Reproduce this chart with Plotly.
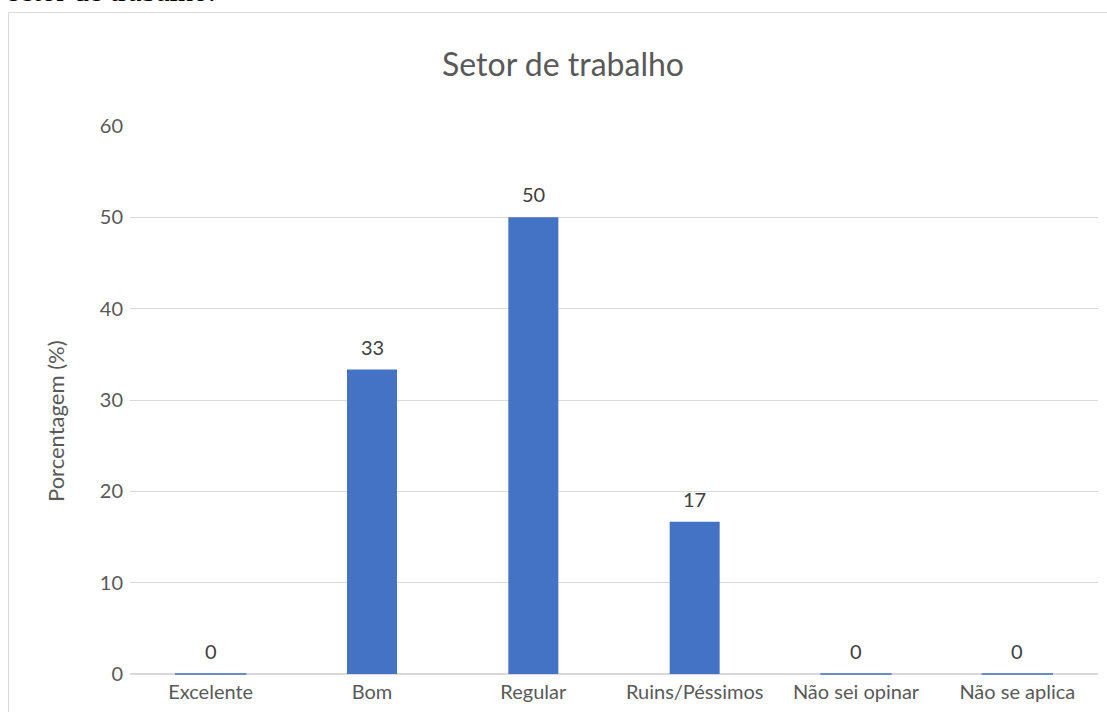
import plotly.graph_objects as go

categories = ["Excelente", "Bom", "Regular", "Ruins/Péssimos", "Não sei opinar", "Não se aplica"]
values = [0, 33.33, 50, 16.67, 0, 0]
labels = ["0", "33", "50", "17", "0", "0"]
y_ticks = [0, 10, 20, 30, 40, 50, 60]

BLUE = "#4472C4"
GRAY_TXT = "#595959"
GRID = "#D9D9D9"
FONT = "Lato"

W, H = 1107, 712
L, R, T, B = 130, 9, 126, 38
pw, ph = W - L - R, H - T - B

def px_x(x):
    return (x - L) / pw

def px_y(y):
    return (H - B - y) / ph

fig = go.Figure()
fig.add_trace(go.Bar(
    x=categories, y=values, marker=dict(color=BLUE, line=dict(width=0)),
    hoverinfo="skip", showlegend=False,
))
zero_x = [c for c, v in zip(categories, values) if v == 0]
zero_y = [v for v in values if v == 0]
fig.add_trace(go.Scatter(
    x=zero_x, y=zero_y, mode="markers",
    marker=dict(symbol="line-ew", size=51, line=dict(color=BLUE, width=1.5)),
    hoverinfo="skip", showlegend=False, cliponaxis=False,
))
for c, v, t in zip(categories, values, labels):
    fig.add_annotation(x=c, y=v, text=t, showarrow=False, yanchor="bottom", xanchor="center",
                       yshift=9, font=dict(family=FONT, size=20, color="#404040"))

# y-axis title
fig.add_annotation(xref="paper", yref="paper", x=px_x(56), y=px_y(421), text="Porcentagem (%)",
                   xanchor="center", yanchor="middle",
                   textangle=-90, showarrow=False, font=dict(family=FONT, size=22, color=GRAY_TXT))
# cut-off caption above chart
fig.add_annotation(xref="paper", yref="paper", x=px_x(6), y=px_y(8.5), xanchor="left", yanchor="bottom",
                   text="setor de trabalho.", showarrow=False,
                   font=dict(family="Liberation Serif", size=30, color="#000000"))
# chart border
fig.add_shape(type="rect", xref="paper", yref="paper", x0=px_x(8.5), x1=px_x(1115), y0=px_y(720), y1=px_y(12.5),
              line=dict(color=GRID, width=1), layer="below")

fig.update_layout(
    width=W, height=H,
    margin=dict(l=L, r=R, t=T, b=B),
    paper_bgcolor="white", plot_bgcolor="white",
    title=dict(text="Setor de trabalho", x=px_x(563), xref="paper", xanchor="center",
               y=1 - 65 / H, yref="container", yanchor="middle",
               font=dict(family=FONT, size=32, color=GRAY_TXT)),
    bargap=0.69,
    font=dict(family=FONT, color=GRAY_TXT),
)
fig.update_xaxes(showgrid=False, showline=False, ticks="", tickfont=dict(family=FONT, size=20, color=GRAY_TXT),
                 ticklabelstandoff=4)
fig.update_yaxes(range=[0, 60], tickvals=y_ticks, showgrid=True, gridcolor=GRID, gridwidth=1.3,
                 zeroline=True, zerolinecolor=GRID, zerolinewidth=2, showline=False, ticks="",
                 tickfont=dict(family=FONT, size=20, color=GRAY_TXT), ticklabelstandoff=6)

fig.write_html("out.html", config={"displayModeBar": False},
               post_script="document.body.style.margin='0';document.body.style.overflow='hidden';")
